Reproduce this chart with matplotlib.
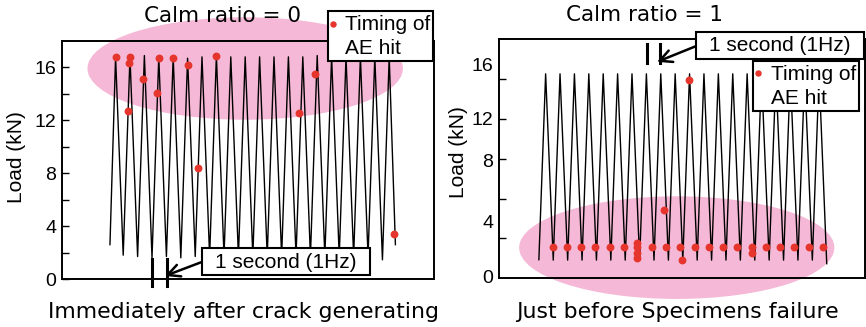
import matplotlib
matplotlib.use("Agg")
import matplotlib.pyplot as plt
from matplotlib.patches import Ellipse, Rectangle
from matplotlib.lines import Line2D

# ---- data (time in s, load in kN) ----
# left: immediately after crack generating (calm ratio = 0)
left_peak_t = [3.72, 4.72, 5.72, 6.72, 7.72, 8.72, 9.72, 10.72, 11.72, 12.72,
               13.72, 14.72, 15.72, 16.72, 17.72, 18.72, 19.72, 20.72, 21.72, 22.72]
left_peak_kn = [16.8, 16.8, 16.9, 16.8, 16.8, 16.7, 16.8, 16.9, 16.8, 16.8,
                16.8, 16.8, 16.8, 16.8, 16.9, 16.8, 16.8, 16.8, 16.8, 16.8]
left_trough_t = [4.25, 5.25, 6.25, 7.25, 8.25, 9.25, 10.25, 11.25, 12.25, 13.25,
                 14.25, 15.25, 16.25, 17.25, 18.25, 19.25, 20.25, 21.25, 22.25]
left_trough_kn = [1.8, 1.7, 1.6, 1.7, 1.6, 1.7, 1.7, 1.7, 1.7, 1.7,
                  1.7, 1.7, 1.7, 1.7, 1.7, 1.7, 1.7, 1.7, 1.45]
left_start = (3.33, 2.6)
left_end = (23.15, 2.6)
left_hit_t = [3.72, 4.72, 4.68, 4.56, 5.63, 6.58, 6.74, 7.69, 8.77, 9.47,
              10.69, 16.48, 17.55, 23.08]
left_hit_kn = [16.78, 16.78, 16.35, 12.70, 15.09, 14.09, 16.75, 16.73, 16.15, 8.43,
               16.85, 12.53, 15.5, 3.42]

# right: just before specimens failure (calm ratio = 1)
right_peak_t = [3.24, 4.24, 5.24, 6.24, 7.24, 8.24, 9.24, 10.24, 11.24, 12.24,
                13.24, 14.24, 15.24, 16.24, 17.24, 18.24, 19.24, 20.24, 21.24, 22.24]
right_peak_kn = [15.4] * 20
right_trough_t = [2.77, 3.77, 4.77, 5.77, 6.77, 7.77, 8.77, 9.77, 10.77, 11.77,
                  12.77, 13.77, 14.77, 15.77, 16.77, 17.77, 18.77, 19.77, 20.77, 21.77, 22.77]
right_trough_kn = [1.4, 1.37, 1.37, 1.37, 1.37, 1.37, 1.37, 1.37, 1.37, 1.37,
                   1.37, 1.37, 1.37, 1.37, 1.37, 1.37, 1.37, 1.37, 1.37, 1.37, 1.1]
right_hit_t = [3.73, 4.70, 5.69, 6.69, 7.69, 8.68, 9.61, 9.61, 9.61, 9.61,
               10.60, 11.60, 12.59, 12.69, 13.59, 14.58, 15.58, 16.57, 17.55, 17.55,
               18.56, 19.53, 20.53, 21.53, 22.52, 11.48, 13.19]
right_hit_kn = [2.35, 2.35, 2.35, 2.35, 2.35, 2.35, 2.67, 2.35, 1.87, 1.5,
                2.35, 2.35, 2.35, 1.4, 2.35, 2.35, 2.35, 2.35, 2.35, 1.92,
                2.35, 2.35, 2.35, 2.35, 2.35, 5.18, 14.93]

W, H = 866, 327
RED = "#e5352c"
PINK = "#f5b8d6"
SANS = "Liberation Sans"


def fx(x):
    return x / W


def fy(y):
    return 1 - y / H


def wave(peaks_t, peaks_kn, troughs_t, troughs_kn, extra=()):
    pts = sorted(list(zip(peaks_t, peaks_kn)) + list(zip(troughs_t, troughs_kn)) + list(extra))
    return [p[0] for p in pts], [p[1] for p in pts]


fig = plt.figure(figsize=(W / 100, H / 100), dpi=100)
ax1 = fig.add_axes([fx(62), fy(279), 372 / W, 238 / H])
ax2 = fig.add_axes([fx(499), fy(278.3), 366.3 / W, 239 / H])

# left panel
t, kn = wave(left_peak_t, left_peak_kn, left_trough_t, left_trough_kn, [left_start, left_end])
ax1.add_patch(Ellipse((12.72, 15.92), 21.9, 7.75, facecolor=PINK, edgecolor="none",
                      zorder=0, clip_on=False))
ax1.plot(t, kn, color="black", lw=1.0, zorder=2, solid_joinstyle="round")
ax1.scatter(left_hit_t, left_hit_kn, s=32, color=RED, zorder=3, linewidths=0)
ax1.set_xlim(0, 25.83)
ax1.set_ylim(0, 18)
ax1.set_yticks([0, 4, 8, 12, 16])
ax1.set_yticks([2, 6, 10, 14], minor=True)

# right panel
t, kn = wave(right_peak_t, right_peak_kn, right_trough_t, right_trough_kn)
ax2.add_patch(Ellipse((12.35, 2.31), 21.9, 7.73, facecolor=PINK, edgecolor="none",
                      zorder=0, clip_on=False))
ax2.plot(t, kn, color="black", lw=1.0, zorder=2, solid_joinstyle="round")
ax2.scatter(right_hit_t, right_hit_kn, s=32, color=RED, zorder=3, linewidths=0)
ax2.set_xlim(0, 25.45)
ax2.set_ylim(0, 18)
ax2.yaxis.remove_overlapping_locs = False
ax2.set_yticks([3, 6, 9, 12, 15])
ax2.set_yticklabels([])
ax2.set_yticks([0.1, 4.3, 8.9, 12.0, 16.1], minor=True)
ax2.set_yticklabels(["0", "4", "8", "12", "16"], minor=True)

for ax in (ax1, ax2):
    ax.set_xticks([])
    for s in ax.spines.values():
        s.set_linewidth(1.4)
    ax.tick_params(axis="y", which="both", direction="in", labelsize=14, pad=4, width=1)
    for lab in ax.get_yticklabels(which="both"):
        lab.set_fontfamily(SANS)
ax1.tick_params(axis="y", which="major", length=5)
ax1.tick_params(axis="y", which="minor", length=5)
ax2.tick_params(axis="y", which="major", length=5)
ax2.tick_params(axis="y", which="minor", length=0)

# "1 second" markers and arrows
ax1.plot([6.27, 6.27], [1.55, -0.5], color="black", lw=2.2, clip_on=False, zorder=4)
ax1.plot([7.28, 7.28], [1.55, -0.5], color="black", lw=2.2, clip_on=False, zorder=4)
ax1.annotate("", xy=(7.15, 0.23), xytext=(9.74, 1.3), annotation_clip=False,
             arrowprops=dict(arrowstyle="->", lw=1.8, color="black", mutation_scale=22,
                             shrinkA=0, shrinkB=0))
ax2.plot([10.26, 10.26], [17.65, 16.2], color="black", lw=2.2, clip_on=False, zorder=4)
ax2.plot([11.2, 11.2], [17.65, 16.2], color="black", lw=2.2, clip_on=False, zorder=4)
ax2.annotate("", xy=(10.98, 16.3), xytext=(13.72, 17.5), annotation_clip=False,
             arrowprops=dict(arrowstyle="->", lw=1.8, color="black", mutation_scale=22,
                             shrinkA=0, shrinkB=0))


def box(x0, y0, x1, y1):
    fig.add_artist(Rectangle((fx(x0), fy(y1)), (x1 - x0) / W, (y1 - y0) / H,
                             transform=fig.transFigure, facecolor="white",
                             edgecolor="black", lw=1.5, zorder=5))


# annotation boxes
box(202.3, 248.3, 370, 275)
fig.text(fx(286), fy(262), "1 second (1Hz)", ha="center", va="center",
         fontsize=15, family=SANS, zorder=6)
box(696, 32.3, 863.5, 59)
fig.text(fx(780), fy(45.7), "1 second (1Hz)", ha="center", va="center",
         fontsize=15, family=SANS, zorder=6)

# legends
for (x0, y0, x1, y1), (dx, dy) in [((328.3, 11, 432.7, 61), (332.7, 24)),
                                   ((753.3, 61, 859, 111), (758.3, 73.3))]:
    box(x0, y0, x1, y1)
    fig.add_artist(Line2D([fx(dx)], [fy(dy)], marker="o", markersize=3.6, color=RED,
                          linestyle="none", transform=fig.transFigure, zorder=6))
    fig.text(fx(dx + 12.3), fy(dy + 1), "Timing of", ha="left", va="center",
             fontsize=15, family=SANS, zorder=6)
    fig.text(fx(dx + 12.3), fy(dy + 25), "AE hit", ha="left", va="center",
             fontsize=15, family=SANS, zorder=6)

# titles, axis labels
fig.text(fx(223), fy(15.5), "Calm ratio = 0", ha="center", va="center", fontsize=15.5)
fig.text(fx(644), fy(15), "Calm ratio = 1", ha="center", va="center", fontsize=15.5)
fig.text(fx(243), fy(312), "Immediately after crack generating", ha="center",
         va="center", fontsize=15.8)
fig.text(fx(677), fy(312), "Just before Specimens failure", ha="center",
         va="center", fontsize=15.8)
fig.text(fx(16.7), fy(157), "Load (kN)", rotation=90, ha="center", va="center",
         fontsize=15, family=SANS)
fig.text(fx(458), fy(152), "Load (kN)", rotation=90, ha="center", va="center",
         fontsize=15, family=SANS)

fig.savefig("out.png", dpi=100)
